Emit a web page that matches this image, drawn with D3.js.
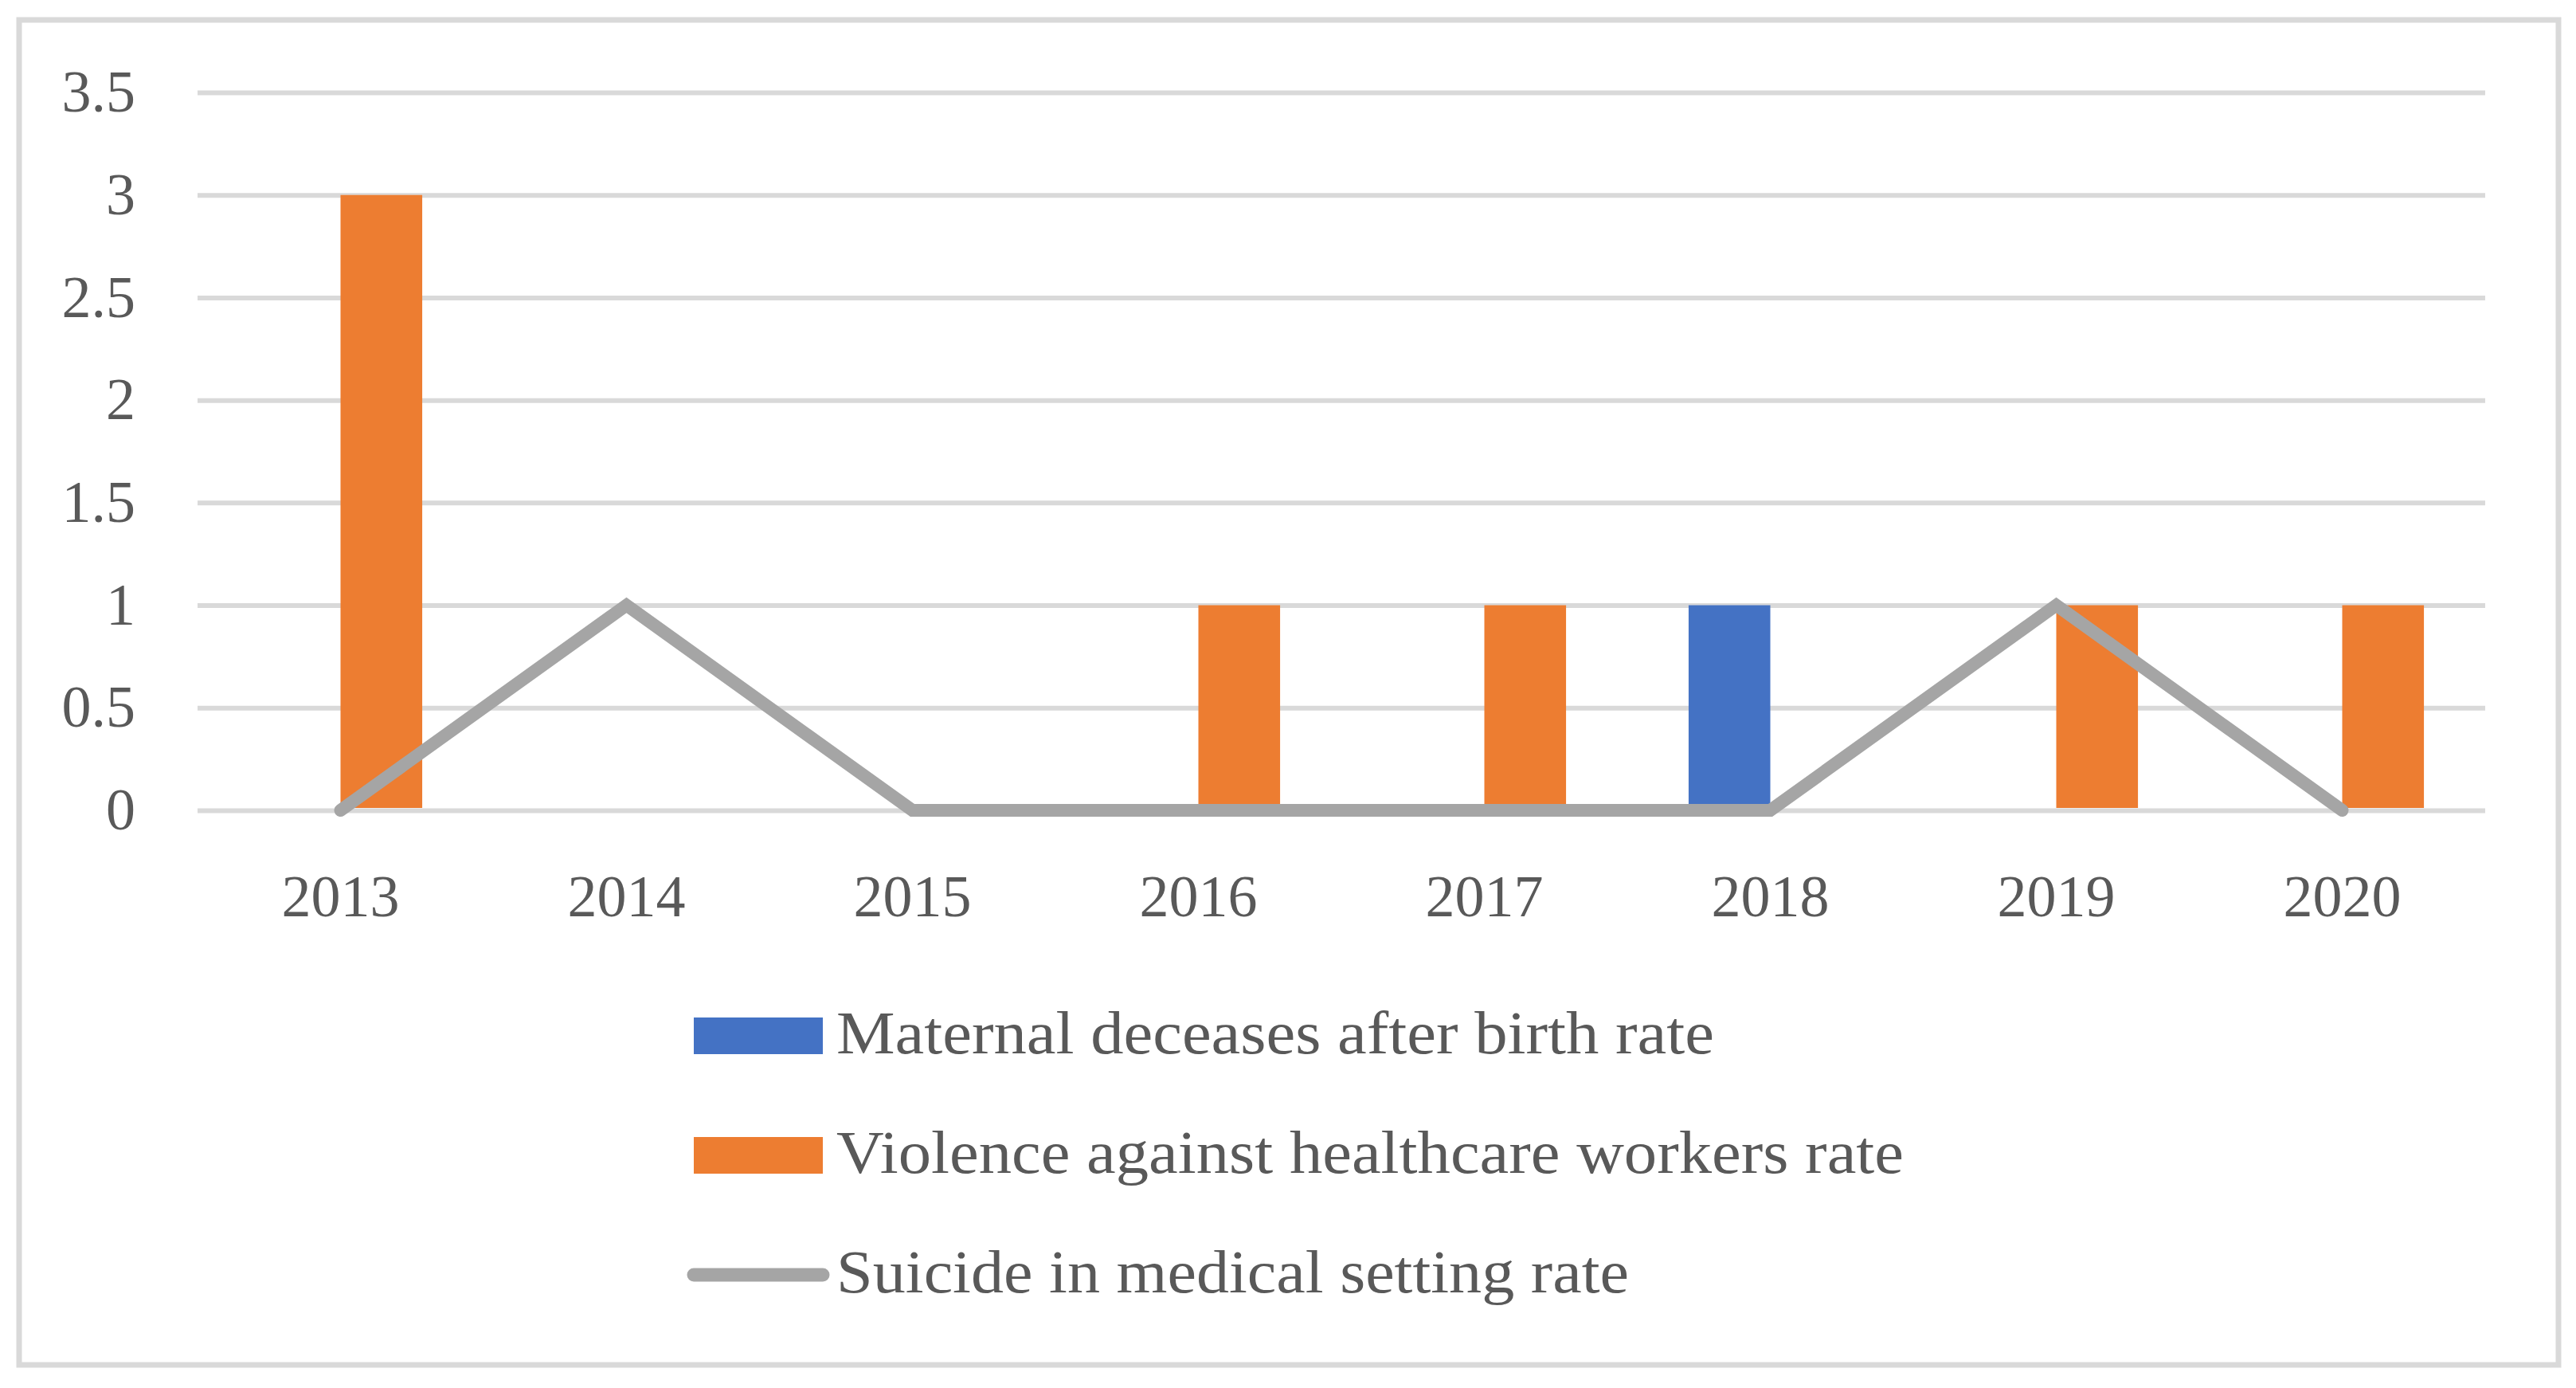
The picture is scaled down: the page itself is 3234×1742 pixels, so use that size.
<!DOCTYPE html>
<html>
<head>
<meta charset="utf-8">
<script src="https://cdn.jsdelivr.net/npm/d3@7"></script>
<style>
  body { margin: 0; background: #fff; }
  text { font-family: "Liberation Serif", "DejaVu Serif", serif; fill: #595959; }
</style>
</head>
<body>
<div id="chart"></div>
<script>
const years = ["2013", "2014", "2015", "2016", "2017", "2018", "2019", "2020"];
const maternal = [0, 0, 0, 0, 0, 1, 0, 0];
const violence = [3, 0, 0, 1, 1, 0, 1, 1];
const suicide = [0, 1, 0, 0, 0, 0, 1, 0];
const yTicks = [0, 0.5, 1, 1.5, 2, 2.5, 3, 3.5];

const barSeries = [
  { key: "maternal", name: "Maternal deceases after birth rate", values: maternal, color: "#4472C4", textLen: 1102 },
  { key: "violence", name: "Violence against healthcare workers rate", values: violence, color: "#ED7D31", textLen: 1340 }
];
const lineSeries = { name: "Suicide in medical setting rate", values: suicide, color: "#A5A5A5", textLen: 995 };

const width = 3234;
const height = 1742;
const plot = { left: 248, right: 3120, top: 116, bottom: 1017 };

const svg = d3.select("#chart")
  .append("svg")
  .attr("width", width)
  .attr("height", height);

// outer frame
svg.append("rect")
  .attr("x", 24)
  .attr("y", 25)
  .attr("width", 3212 - 24)
  .attr("height", 1713 - 25)
  .attr("fill", "#fff")
  .attr("stroke", "#D9D9D9")
  .attr("stroke-width", 7);

const x = d3.scaleBand()
  .domain(years)
  .range([plot.left, plot.right])
  .paddingInner(0)
  .paddingOuter(0);

const xSub = d3.scaleBand()
  .domain(barSeries.map(s => s.key))
  .range([0, x.bandwidth()])
  .paddingInner(0)
  .paddingOuter(0.75);

const y = d3.scaleLinear()
  .domain([0, 3.5])
  .range([plot.bottom, plot.top]);

// y axis with gridlines
const yAxisGroup = svg.append("g")
  .attr("transform", `translate(${plot.left},0)`)
  .call(d3.axisLeft(y)
    .tickValues(yTicks)
    .tickFormat(d3.format("~g"))
    .tickSize(-(plot.right - plot.left))
    .tickPadding(78));

yAxisGroup.select(".domain").remove();
yAxisGroup.selectAll(".tick line")
  .attr("stroke", "#D9D9D9")
  .attr("stroke-width", 6);
yAxisGroup.selectAll(".tick text")
  .style("font-size", "74px")
  .attr("fill", "#595959");

// x axis labels
const xAxisGroup = svg.append("g")
  .attr("transform", `translate(0,${plot.bottom})`)
  .call(d3.axisBottom(x).tickSize(0).tickPadding(80));

xAxisGroup.select(".domain").remove();
xAxisGroup.selectAll(".tick text")
  .style("font-size", "74px")
  .attr("fill", "#595959");

// bars
const mainG = svg.append("g");
barSeries.forEach(s => {
  mainG.append("g")
    .selectAll("rect")
    .data(years.map((yr, i) => ({ year: yr, value: s.values[i] })).filter(d => d.value > 0))
    .join("rect")
    .attr("x", d => x(d.year) + xSub(s.key))
    .attr("width", xSub.bandwidth())
    .attr("y", d => y(d.value))
    .attr("height", d => y(0) - y(d.value) - 3)
    .attr("fill", s.color);
});

// line
const line = d3.line()
  .x((d, i) => x(years[i]) + x.bandwidth() / 2)
  .y(d => y(d));

mainG.append("path")
  .datum(lineSeries.values)
  .attr("d", line)
  .attr("fill", "none")
  .attr("stroke", lineSeries.color)
  .attr("stroke-width", 16)
  .attr("stroke-linecap", "round")
  .attr("stroke-linejoin", "miter");

// legend
const legend = svg.append("g").attr("transform", "translate(871,1300)");
const legendItems = [...barSeries, lineSeries];
legendItems.forEach((s, i) => {
  const g = legend.append("g").attr("transform", `translate(0,${i * 150})`);
  if (s === lineSeries) {
    g.append("line")
      .attr("x1", 0).attr("x2", 162)
      .attr("y1", 0).attr("y2", 0)
      .attr("stroke", s.color)
      .attr("stroke-width", 17)
      .attr("stroke-linecap", "round");
  } else {
    g.append("rect")
      .attr("x", 0).attr("y", -23)
      .attr("width", 162).attr("height", 46)
      .attr("fill", s.color);
  }
  g.append("text")
    .attr("x", 179)
    .attr("y", 22)
    .attr("textLength", s.textLen)
    .attr("lengthAdjust", "spacingAndGlyphs")
    .style("font-size", "77px")
    .text(s.name);
});
</script>
</body>
</html>
